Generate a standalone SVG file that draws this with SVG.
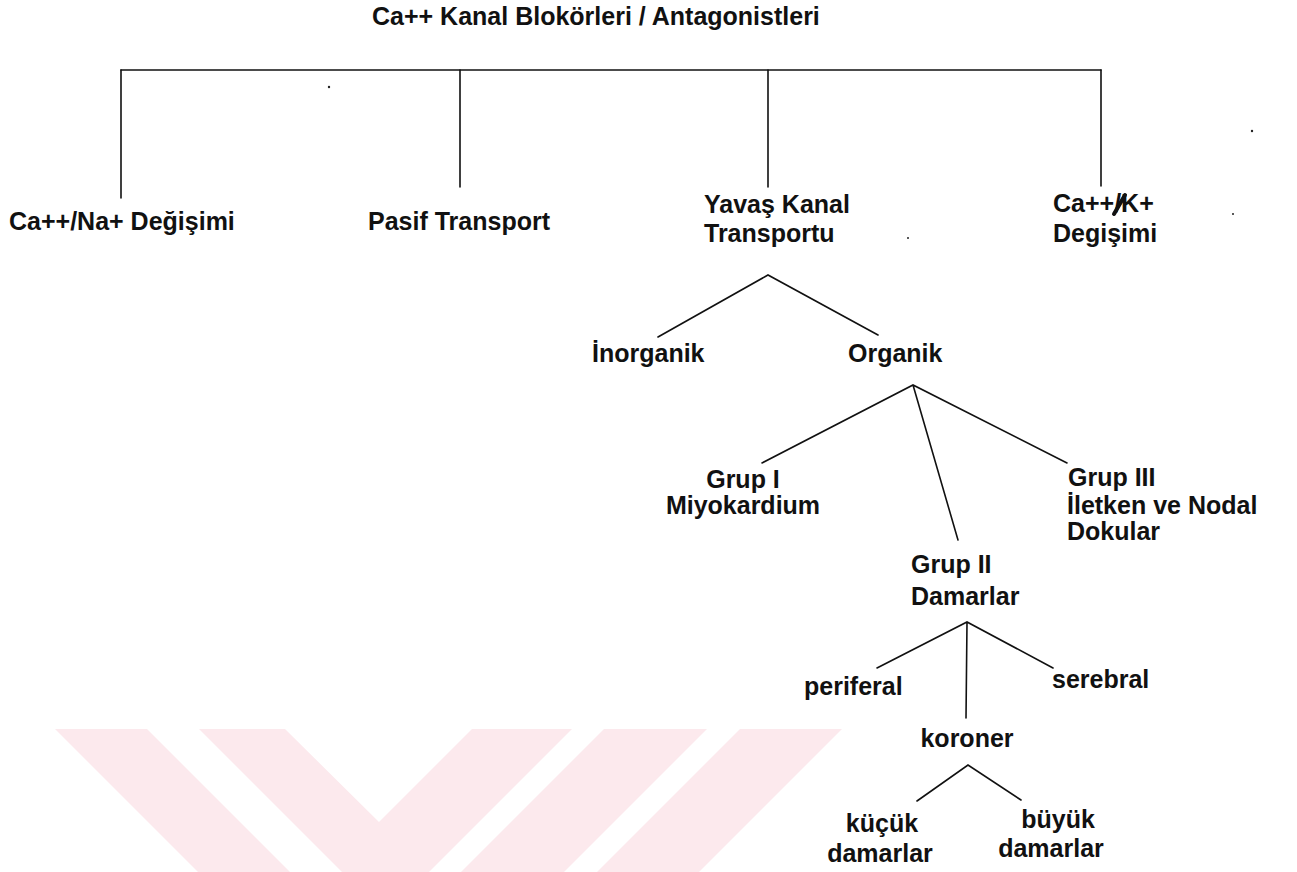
<svg xmlns="http://www.w3.org/2000/svg" width="1297" height="872" viewBox="0 0 1297 872">
<style>
text{font-family:"Liberation Sans",Arial,sans-serif;font-size:25px;font-weight:bold;fill:#111}
.c{text-anchor:middle}
.ln{stroke:#111;stroke-width:1.6;fill:none;stroke-linecap:round}
.wm{fill:#fce9ed}
.sp{fill:#222}
</style>
<rect width="1297" height="872" fill="#fff"/>
<g id="watermark">
<polygon class="wm" points="55,729 147,729 290,872 198,872"/>
<polygon class="wm" points="199,729 285,729 379,822 472,729 572,729 429,872 342,872"/>
<polygon class="wm" points="604,729 707,729 564,872 461,872"/>
<polygon class="wm" points="740,729 842,729 699,872 597,872"/>
</g>
<g id="connectors">
<path class="ln" d="M121,70 H1101"/>
<path class="ln" d="M121,70 V198 M460,70 V187 M768,70 V187 M1101,70 V186"/>
<path class="ln" d="M658,337 L768,275 L878,335"/>
<path class="ln" d="M762,463 L913,385 L1067,463 M913,385 L958,540"/>
<path class="ln" d="M877,668 L967,622 L1053,668 M967,622 L966,718"/>
<path class="ln" d="M917,801 L968,765 L1021,800"/>
</g>
<g id="specks">
<circle class="sp" cx="329" cy="87" r="1.2"/>
<circle class="sp" cx="1252" cy="131" r="1.2"/>
<circle class="sp" cx="1233" cy="214" r="1"/>
<circle class="sp" cx="908" cy="238" r="1"/>
</g>
<g id="title"><text x="372" y="25">Ca++ Kanal Blokörleri / Antagonistleri</text></g>
<g id="n-na"><text x="9" y="230">Ca++/Na+ Değişimi</text></g>
<g id="n-pasif"><text x="368" y="230">Pasif Transport</text></g>
<g id="n-yavas"><text x="704" y="213">Yavaş Kanal</text><text x="704" y="242">Transportu</text></g>
<g id="n-k"><text x="1053" y="212">Ca++/K+</text><path d="M1125,195 L1114,214" stroke="#111" stroke-width="4" stroke-linecap="round"/><text x="1053" y="242">Degişimi</text></g>
<g id="n-inorganik"><text x="592" y="362">İnorganik</text></g>
<g id="n-organik"><text x="848" y="362">Organik</text></g>
<g id="n-grup1"><text class="c" x="743" y="488">Grup I</text><text class="c" x="743" y="514">Miyokardium</text></g>
<g id="n-grup3"><text x="1068" y="486">Grup III</text><text x="1067" y="514">İletken ve Nodal</text><text x="1067" y="540">Dokular</text></g>
<g id="n-grup2"><text x="911" y="573">Grup II</text><text x="911" y="605">Damarlar</text></g>
<g id="n-periferal"><text x="804" y="695">periferal</text></g>
<g id="n-serebral"><text x="1052" y="688">serebral</text></g>
<g id="n-koroner"><text class="c" x="967" y="747">koroner</text></g>
<g id="n-kucuk"><text class="c" x="882" y="832">küçük</text><text class="c" x="880" y="862">damarlar</text></g>
<g id="n-buyuk"><text class="c" x="1058" y="828">büyük</text><text class="c" x="1051" y="857">damarlar</text></g>
</svg>
